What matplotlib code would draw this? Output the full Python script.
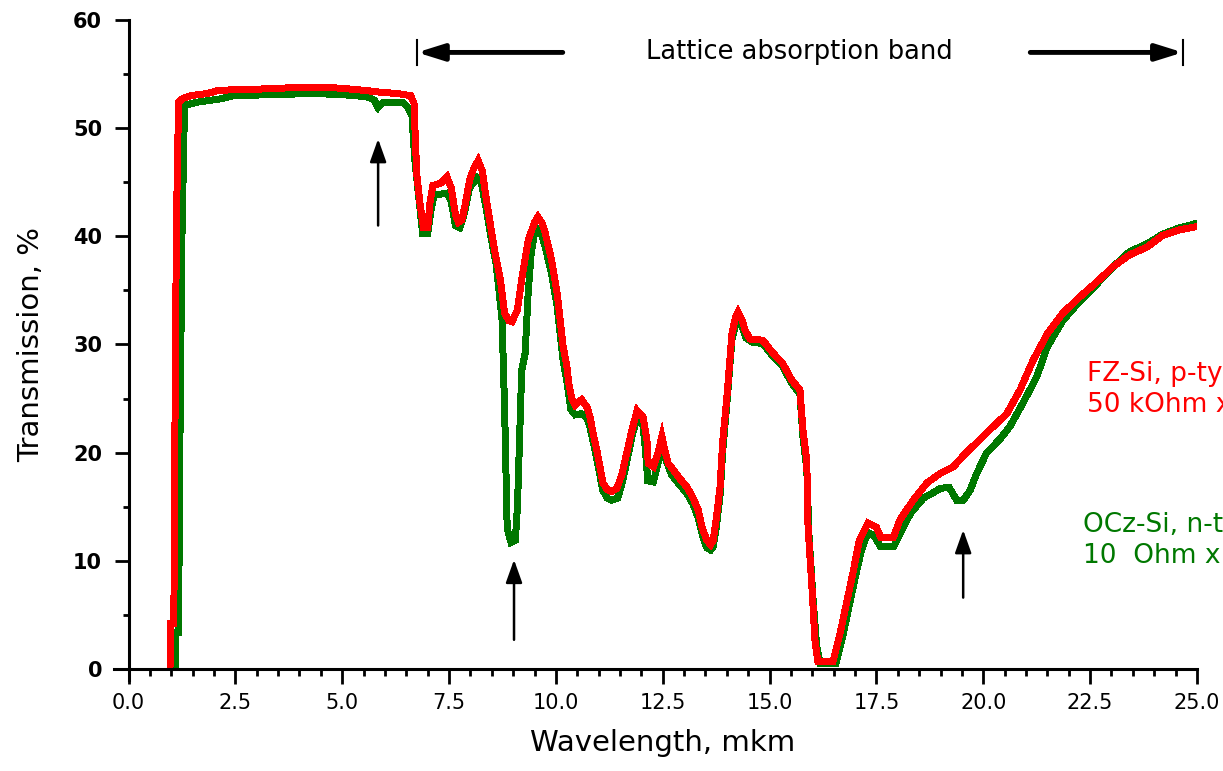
import numpy as np
import matplotlib
matplotlib.use('Agg')
import matplotlib.pyplot as plt
from matplotlib.ticker import MultipleLocator

# ========== Spectra (wavelength in mkm, transmission in %) ==========
fz_wl = [0.97, 0.98, 1.06, 1.08, 1.12, 1.17, 1.25, 1.45, 1.85, 2.1, 3.0, 4.2, 4.95, 5.5, 5.95,
         6.3, 6.6, 6.68, 6.72, 6.75, 6.82, 6.9, 7.0, 7.05, 7.12, 7.3, 7.45, 7.55, 7.65, 7.72,
         7.8, 7.88, 7.98, 8.08, 8.18, 8.28, 8.35, 8.45, 8.58, 8.7, 8.8, 8.9, 8.97, 9.1, 9.2,
         9.35, 9.5, 9.58, 9.68, 9.75, 9.9, 10.03, 10.1, 10.17, 10.26, 10.3, 10.38, 10.45, 10.6,
         10.73, 10.8, 10.87, 10.96, 11.03, 11.1, 11.2, 11.3, 11.43, 11.55, 11.66, 11.78, 11.9,
         12.04, 12.13, 12.16, 12.28, 12.39, 12.48, 12.55, 12.63, 12.75, 12.9, 13.07, 13.2,
         13.33, 13.42, 13.53, 13.62, 13.68, 13.75, 13.84, 13.9, 14.0, 14.12, 14.2, 14.26,
         14.35, 14.43, 14.54, 14.84, 15.08, 15.3, 15.52, 15.71, 15.78, 15.87, 15.9, 16.0,
         16.06, 16.13, 16.48, 16.65, 16.8, 16.95, 17.1, 17.3, 17.5, 17.6, 17.9, 18.05, 18.36,
         18.68, 19.0, 19.3, 19.6, 19.92, 20.23, 20.55, 20.86, 21.16, 21.5, 21.86, 22.26,
         22.66, 23.04, 23.43, 23.83, 24.2, 24.6, 25.0]
fz_tr = [0.0, 4.2, 4.2, 19.0, 41.0, 52.4, 52.7, 53.0, 53.2, 53.5, 53.6, 53.8, 53.7, 53.5, 53.3,
         53.2, 53.0, 52.3, 48.0, 45.5, 43.0, 40.8, 40.8, 43.0, 44.7, 44.9, 45.5, 44.5, 42.0, 41.3,
         41.5, 43.0, 45.2, 46.3, 47.0, 46.0, 44.0, 41.5, 38.4, 36.0, 32.9, 32.2, 32.1, 33.2, 36.0,
         39.6, 41.3, 41.8, 41.2, 40.3, 37.8, 34.7, 32.3, 29.8, 27.9, 26.4, 24.9, 24.4, 24.9,
         24.2, 23.3, 21.8, 20.2, 18.7, 17.2, 16.6, 16.4, 16.7, 18.1, 20.0, 22.1, 23.9,
         23.3, 21.2, 19.0, 18.7, 20.0, 21.5, 20.2, 19.0, 18.4, 17.6, 16.8, 15.9,
         14.7, 13.1, 11.9, 11.5, 11.9, 13.8, 16.8, 20.9, 25.1, 31.0, 32.5, 33.0,
         32.3, 31.3, 30.5, 30.4, 29.2, 28.3, 26.7, 25.8, 22.1, 19.3, 13.1, 7.0,
         2.7, 0.65, 0.65, 3.3, 6.1, 8.9, 11.9, 13.5, 13.1, 12.2, 12.2, 13.8, 15.6,
         17.2, 18.1, 18.7, 20.0, 21.2, 22.4, 23.6, 25.8, 28.5, 31.0, 32.9, 34.4,
         35.8, 37.2, 38.3, 39.0, 40.1, 40.6, 40.9]

ocz_wl = [1.1, 1.11, 1.17, 1.2, 1.25, 1.31, 1.6, 2.14, 2.45, 4.32, 5.0, 5.58, 5.75, 5.84, 5.96,
          6.42, 6.54, 6.63, 6.7, 6.78, 6.88, 7.0, 7.08, 7.15, 7.45, 7.55, 7.65, 7.75, 7.85, 7.98,
          8.15, 8.25, 8.35, 8.5, 8.6, 8.74, 8.8, 8.86, 8.95, 9.05, 9.1, 9.2, 9.28, 9.35, 9.42,
          9.5, 9.58, 9.68, 9.75, 9.9, 10.03, 10.1, 10.17, 10.26, 10.35, 10.45, 10.6, 10.73,
          10.8, 10.9, 11.0, 11.1, 11.2, 11.3, 11.45, 11.55, 11.66, 11.78, 11.9, 12.04, 12.1,
          12.15, 12.28, 12.39, 12.48, 12.58, 12.7, 12.9, 13.07, 13.2, 13.33, 13.42, 13.53,
          13.62, 13.68, 13.75, 13.84, 13.9, 14.0, 14.12, 14.26, 14.35, 14.45, 14.6, 14.84,
          15.08, 15.3, 15.52, 15.71, 15.78, 15.87, 15.92, 16.02, 16.1, 16.18, 16.55, 16.7,
          16.85, 17.0, 17.15, 17.3, 17.45, 17.6, 17.9, 18.05, 18.3, 18.6, 18.83, 19.0, 19.2,
          19.38, 19.53, 19.69, 19.85, 20.08, 20.38, 20.62, 20.93, 21.25, 21.5, 21.86, 22.26,
          22.66, 23.04, 23.43, 23.83, 24.2, 24.6, 25.0]
ocz_tr = [0.0, 3.4, 3.4, 20.0, 40.0, 52.1, 52.4, 52.7, 53.0, 53.2, 53.1, 52.9, 52.6, 51.9, 52.4,
          52.4, 51.9, 51.2, 47.0, 44.0, 40.3, 40.3, 42.5, 43.8, 44.0, 43.2, 41.0, 40.8, 42.0, 44.5,
          45.4, 45.0, 43.0, 39.5, 37.5, 32.3, 24.0, 13.0, 11.7, 11.9, 15.0, 27.6, 29.2, 34.7, 38.4,
          40.3, 40.6, 40.0, 39.0, 36.5, 33.5, 31.0, 28.5, 26.5, 24.0, 23.5, 23.6, 23.2,
          22.3, 20.5, 18.5, 16.5, 15.8, 15.6, 15.8, 17.2, 19.2, 21.5, 23.3, 22.5, 20.0,
          17.4, 17.3, 19.0, 20.5, 19.3, 18.0, 17.0, 16.2, 15.3, 14.0, 12.5, 11.2,
          11.0, 11.3, 13.0, 16.0, 20.0, 24.5, 30.5, 32.6, 31.8, 30.6, 30.2, 30.1,
          28.9, 28.0, 26.4, 25.4, 21.5, 18.5, 12.5, 6.3, 2.2, 0.5, 0.5, 2.8,
          5.6, 8.4, 11.0, 12.6, 12.3, 11.3, 11.3, 12.5, 14.4, 15.8, 16.3, 16.7, 16.8,
          15.6, 15.6, 16.5, 18.1, 20.0, 21.2, 22.4, 24.6, 27.0, 29.8, 32.2, 34.0,
          35.6, 37.2, 38.6, 39.3, 40.2, 40.8, 41.2]

# arrows marking absorption features: (wavelength, tail, head)
marks_wl = [5.84, 9.02, 19.53]
marks_tail = [41.0, 2.7, 6.6]
marks_head = [49.0, 10.1, 12.85]

band_start, band_end, band_level = 6.75, 24.67, 57.0

fz_color = '#ff0000'
ocz_color = '#007800'

# ========== Figure ==========
plt.rcParams['font.family'] = 'DejaVu Sans'
fig = plt.figure(figsize=(12.23, 7.71), dpi=100)
ax = fig.add_axes([0.1051, 0.1323, 0.8736, 0.8418])

ax.plot(ocz_wl, ocz_tr, color=ocz_color, lw=4.3, solid_joinstyle='miter', antialiased=False)
ax.plot(fz_wl, fz_tr, color=fz_color, lw=4.3, solid_joinstyle='miter', antialiased=False)

for wl, tail, head in zip(marks_wl, marks_tail, marks_head):
    ax.annotate('', xy=(wl, head), xytext=(wl, tail),
                arrowprops=dict(arrowstyle='-|>,head_length=1.4,head_width=0.5',
                                lw=1.8, color='black', shrinkA=0, shrinkB=0,
                                mutation_scale=10))

# lattice absorption band marker
ax.annotate('', xy=(band_start, band_level), xytext=(10.16, band_level),
            arrowprops=dict(arrowstyle='-|>,head_length=1.6,head_width=0.5',
                            lw=3.5, color='black', shrinkA=0, shrinkB=0, mutation_scale=10))
ax.annotate('', xy=(band_end, band_level), xytext=(21.1, band_level),
            arrowprops=dict(arrowstyle='-|>,head_length=1.6,head_width=0.5',
                            lw=3.5, color='black', shrinkA=0, shrinkB=0, mutation_scale=10))
for bx in (band_start, band_end):
    ax.plot([bx, bx], [band_level - 1.15, band_level + 1.15], color='black', lw=1.5,
            clip_on=False)
ax.text(15.7, band_level, 'Lattice absorption band', fontsize=18.5, ha='center', va='center')

# sample labels (run off the right edge of the figure)
ax.text(22.43, 26.6, 'FZ-Si, p-type', color=fz_color, fontsize=19, va='baseline')
ax.text(22.43, 23.75, '50 kOhm x cm', color=fz_color, fontsize=19, va='baseline')
ax.text(22.33, 12.66, 'OCz-Si, n-type', color=ocz_color, fontsize=19, va='baseline')
ax.text(22.33, 9.8, '10  Ohm x cm', color=ocz_color, fontsize=19, va='baseline')

# ========== Axes ==========
ax.set_xlim(0, 25)
ax.set_ylim(0, 60)
for side in ('top', 'right'):
    ax.spines[side].set_visible(False)
for side in ('left', 'bottom'):
    ax.spines[side].set_linewidth(2.2)
ax.spines['bottom'].set_bounds(-0.35, 25)
ax.spines['left'].set_bounds(-1.0, 60)

ax.xaxis.set_major_locator(MultipleLocator(2.5))
ax.xaxis.set_minor_locator(MultipleLocator(0.5))
ax.yaxis.set_major_locator(MultipleLocator(10))
ax.yaxis.set_minor_locator(MultipleLocator(5))
ax.xaxis.set_major_formatter(matplotlib.ticker.FormatStrFormatter('%.1f'))
ax.tick_params(axis='x', which='major', direction='out', length=11, width=2, labelsize=15, pad=6)
ax.tick_params(axis='x', which='minor', direction='out', length=5, width=2)
ax.tick_params(axis='y', which='major', direction='out', length=10, width=2, labelsize=15, pad=9)
ax.tick_params(axis='y', which='minor', direction='out', length=4, width=2)
for lbl in ax.get_yticklabels():
    lbl.set_fontweight('bold')

ax.set_xlabel('Wavelength, mkm', fontsize=21, labelpad=12)
ax.set_ylabel('Transmission, %', fontsize=21, labelpad=20)

fig.savefig('out.png', dpi=100)
